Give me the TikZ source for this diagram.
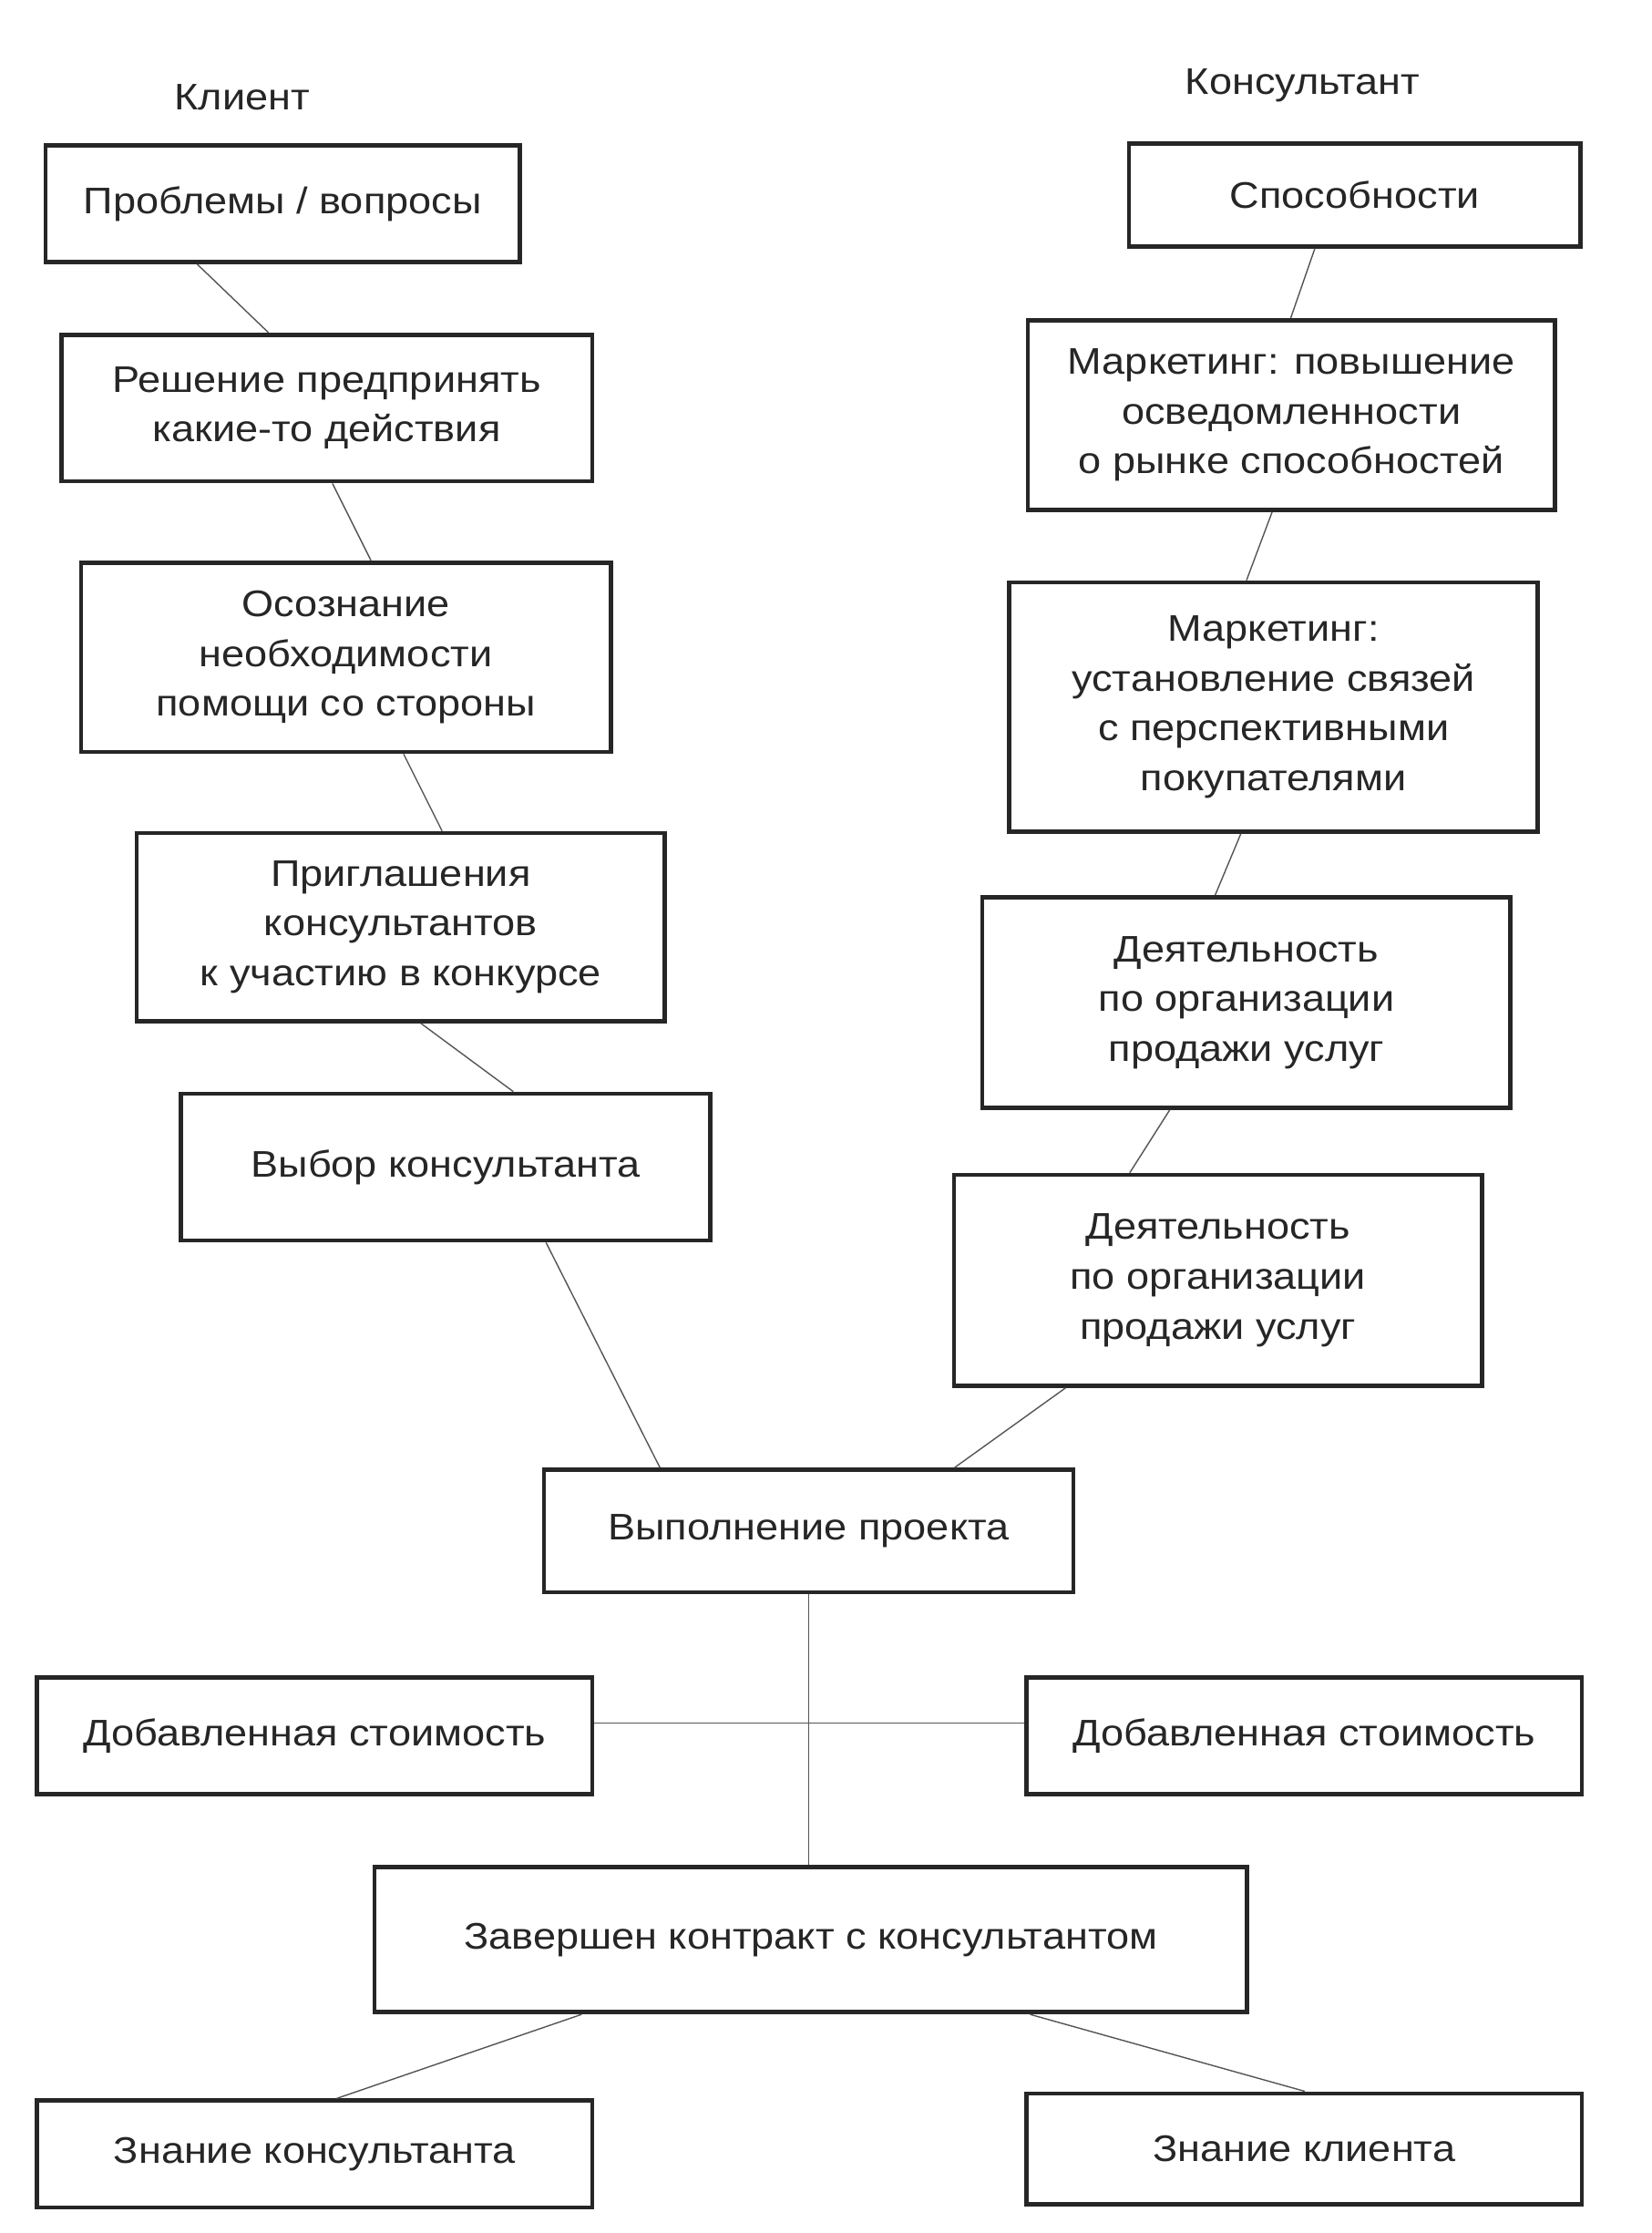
\documentclass[tikz,border=0pt]{standalone}
\usepackage{fontspec}
\setmainfont[FakeStretch=1.11]{Liberation Sans}
\usetikzlibrary{positioning,calc}
\definecolor{ink}{HTML}{262626}
\definecolor{wire}{HTML}{555555}
\begin{document}
\begin{tikzpicture}[x=1pt,y=-1pt,
   box/.style={draw=ink,line width=3pt,align=center,inner sep=0pt,text=ink,font=\fontsize{26}{35}\selectfont},
   head/.style={text=ink,font=\fontsize{26}{35}\selectfont},
   wire/.style={draw=wire,line width=0.9pt}]
	\useasboundingbox[fill=white] (0,0) rectangle (1160,1568);
	\node[head] (cli) at (170,68) {Клиент};
	\node[head] (con) at (915,60) {Консультант};
	\node[box,minimum width=333,minimum height=82] (prob) at (198.5,143) {Проблемы / вопросы};
	\node[box,minimum width=373,minimum height=103] (dec) at (229.5,286.5) {Решение предпринять\\какие-то действия};
	\node[box,minimum width=372,minimum height=133] (aw) at (243,461.5) {Осознание\\необходимости\\помощи со стороны};
	\node[box,minimum width=371,minimum height=132] (inv) at (281.5,651) {Приглашения\\консультантов\\к участию в конкурсе};
	\node[box,minimum width=372,minimum height=103] (sel) at (313,819.5) {Выбор консультанта};
	\node[box,minimum width=317,minimum height=72] (abil) at (951.5,137) {Способности};
	\node[box,minimum width=370,minimum height=133] (mk1) at (907,291.5) {Маркетинг: повышение\\осведомленности\\о рынке способностей};
	\node[box,minimum width=371,minimum height=175] (mk2) at (894.5,496.5) {Маркетинг:\\установление связей\\с перспективными\\покупателями};
	\node[box,minimum width=371,minimum height=148] (act1) at (875.5,704) {Деятельность\\по организации\\продажи услуг};
	\node[box,minimum width=371,minimum height=148] (act2) at (855.5,899) {Деятельность\\по организации\\продажи услуг};
	\node[box,minimum width=372,minimum height=86] (proj) at (568,1075) {Выполнение проекта};
	\node[box,minimum width=390,minimum height=82] (valL) at (221,1219) {Добавленная стоимость};
	\node[box,minimum width=390,minimum height=82] (valR) at (916,1219) {Добавленная стоимость};
	\node[box,minimum width=613,minimum height=102] (contr) at (569.5,1362) {Завершен контракт с консультантом};
	\node[box,minimum width=390,minimum height=75] (knC) at (221,1512.5) {Знание консультанта};
	\node[box,minimum width=390,minimum height=78] (knK) at (916,1509) {Знание клиента};
	\draw[wire] ([xshift=108]prob.south west) -- ([xshift=147]dec.north west);
	\draw[wire] ([xshift=192]dec.south west) -- ([xshift=205]aw.north west);
	\draw[wire] ([xshift=228]aw.south west) -- ([xshift=216]inv.north west);
	\draw[wire] ([xshift=201]inv.south west) -- ([xshift=235]sel.north west);
	\draw[wire] ([xshift=258]sel.south west) -- ([xshift=83]proj.north west);
	\draw[wire] ([xshift=132]abil.south west) -- ([xshift=186]mk1.north west);
	\draw[wire] ([xshift=173]mk1.south west) -- ([xshift=168]mk2.north west);
	\draw[wire] ([xshift=164]mk2.south west) -- ([xshift=165]act1.north west);
	\draw[wire] ([xshift=133]act1.south west) -- ([xshift=125]act2.north west);
	\draw[wire] ([xshift=80]act2.south west) -- ([xshift=290]proj.north west);
	\draw[wire] (proj.south) -- (proj.south |- contr.north);
	\draw[wire] ([yshift=9]valL.east) -- ([yshift=9]valR.west);
	\draw[wire] ([xshift=147]contr.south west) -- ([xshift=212]knC.north west);
	\draw[wire] ([xshift=462]contr.south west) -- ([xshift=197]knK.north west);
\end{tikzpicture}
\end{document}
